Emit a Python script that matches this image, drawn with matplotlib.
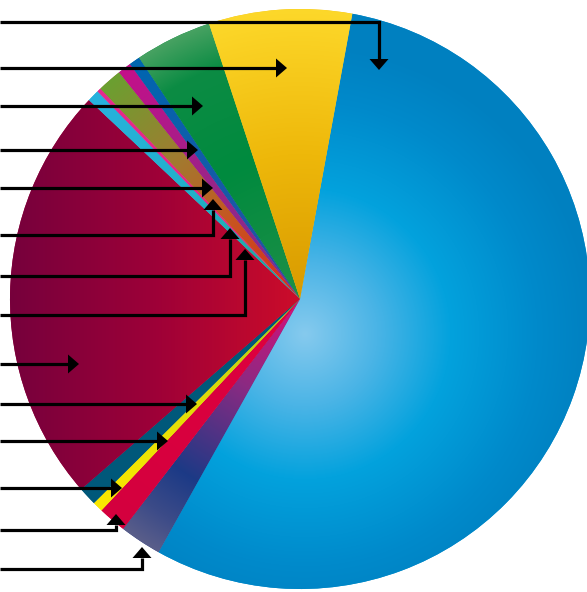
import numpy as np
import matplotlib
matplotlib.use("Agg")
import matplotlib.pyplot as plt
from matplotlib.patches import Polygon
from matplotlib.colors import to_rgb

# ---- data (share of pie, clockwise from 12 o'clock region) ----
slice_names = ["blue_big", "navy", "crimson", "yellow_small", "teal", "maroon",
               "cyan", "pink", "olive", "magenta", "blue_small", "green", "yellow_big"]
slice_values = [55.22, 2.33, 1.56, 0.58, 1.03, 23.42, 0.67, 0.22, 1.36, 0.75, 0.61, 4.28, 7.97]
base_colors = ["#0090d0", "#2a3f88", "#d6003e", "#f0e000", "#005878", "#a0063a",
               "#24b0d8", "#e6288e", "#a07a30", "#a81c88", "#0066b0", "#008a40", "#f2c01a"]

# gradient stops: (kind, stops) ; radial -> distance from centre / radius, linear_x -> x pixel
gradients = {
    "blue_big":    ("radial_f", [(0.0, "#86caee"), (0.25, "#4ab4e6"), (0.5, "#03a2dd"), (0.8, "#008acb"), (1.0, "#0080c0")]),
    "navy":        ("radial", [(0.0, "#d8107a"), (0.35, "#8c2a82"), (0.72, "#1c3a86"), (0.88, "#3c4b88"), (1.0, "#5a5e8a")]),
    "crimson":     ("radial", [(0.0, "#e0003e"), (1.0, "#d4003e")]),
    "yellow_small":("radial", [(0.0, "#a8c818"), (0.5, "#e0dc08"), (1.0, "#fbe800")]),
    "teal":        ("radial", [(0.0, "#005a7a"), (1.0, "#00587a")]),
    "maroon":      ("linear_x", [(10.0, "#76003c"), (150.0, "#9c0038"), (300.0, "#cc0c2a")]),
    "cyan":        ("radial", [(0.0, "#20a890"), (0.5, "#22b0c8"), (1.0, "#28b2de")]),
    "pink":        ("radial", [(0.0, "#e8287a"), (1.0, "#e6288e")]),
    "olive":       ("radial", [(0.0, "#d8281e"), (0.35, "#c85420"), (0.65, "#a07c30"), (1.0, "#6aa030")]),
    "magenta":     ("radial", [(0.0, "#7a3090"), (0.5, "#9a2488"), (1.0, "#c4108a")]),
    "blue_small":  ("radial", [(0.0, "#2a50a0"), (1.0, "#0066b0")]),
    "green":       ("radial", [(0.0, "#1e9048"), (0.5, "#008a3e"), (0.85, "#0c8c44"), (1.0, "#48a262")]),
    "yellow_big":  ("radial", [(0.0, "#d89a00"), (0.5, "#eeb80a"), (1.0, "#fdd82a")]),
}

# leader arrows (layout): horizontal level, tip position
arrow_rows  = [22, 68, 106, 150, 188, 235, 276, 315, 364, 404, 441, 488, 530, 569]
arrow_tip_x = [379, 287, 203, 198, 213, 213, 230, 245, 79, 197, 168, 122, 116, 142]
arrow_tip_y = [70, 68, 106, 150, 188, 199, 228, 249, 364, 404, 441, 488, 514, 547]

W, H = 587, 592
CX, CY, R = 300.0, 299.0, 290.0
START_CW_FROM_TOP = 10.4

fig = plt.figure(figsize=(W / 100, H / 100), dpi=100)
ax = fig.add_axes([0, 0, 1, 1])

wedges, _ = ax.pie(slice_values, colors=base_colors, startangle=-90 + START_CW_FROM_TOP,
                   counterclock=True, radius=R, center=(CX, CY),
                   wedgeprops=dict(linewidth=0))

xs = np.arange(W) + 0.5
ys = np.arange(H) + 0.5
X, Y = np.meshgrid(xs, ys)


def interp_img(t, stops):
    pos = np.array([s[0] for s in stops])
    cols = np.array([to_rgb(s[1]) for s in stops])
    img = np.zeros(t.shape + (3,))
    for c in range(3):
        img[..., c] = np.interp(t, pos, cols[:, c])
    return img


for name, wedge in zip(slice_names, wedges):
    kind, stops = gradients[name]
    if kind == "radial":
        t = np.hypot(X - CX, Y - CY) / R
    elif kind == "radial_f":
        t = np.hypot(X - (CX + 5), Y - (CY + 35)) / R
    else:
        t = X
    img = interp_img(t, stops)
    im = ax.imshow(img, extent=(0, W, H, 0), origin="upper", interpolation="bilinear",
                   aspect="auto", zorder=2)
    im.set_clip_path(wedge)

# arrows
HEAD_L, HEAD_W = 11.0, 9.5
for row, tx, ty in zip(arrow_rows, arrow_tip_x, arrow_tip_y):
    if ty == row:  # horizontal, pointing right
        ax.plot([0, tx - HEAD_L], [row, row], color="black", lw=2.3,
                solid_capstyle="butt", zorder=5)
        tri = [(tx, ty), (tx - HEAD_L, ty - HEAD_W), (tx - HEAD_L, ty + HEAD_W)]
    elif ty > row:  # goes right then down
        ax.plot([0, tx, tx], [row, row, ty - HEAD_L], color="black", lw=2.3,
                solid_joinstyle="miter", solid_capstyle="butt", zorder=5)
        tri = [(tx, ty), (tx - HEAD_W, ty - HEAD_L), (tx + HEAD_W, ty - HEAD_L)]
    else:  # goes right then up
        ax.plot([0, tx, tx], [row, row, ty + HEAD_L], color="black", lw=2.3,
                solid_joinstyle="miter", solid_capstyle="butt", zorder=5)
        tri = [(tx, ty), (tx - HEAD_W, ty + HEAD_L), (tx + HEAD_W, ty + HEAD_L)]
    ax.add_patch(Polygon(tri, closed=True, facecolor="black", edgecolor="none", zorder=6))

ax.set_xlim(0, W)
ax.set_ylim(H, 0)
ax.set_aspect("auto")
ax.axis("off")
fig.savefig("out.png", dpi=100, facecolor="white")
